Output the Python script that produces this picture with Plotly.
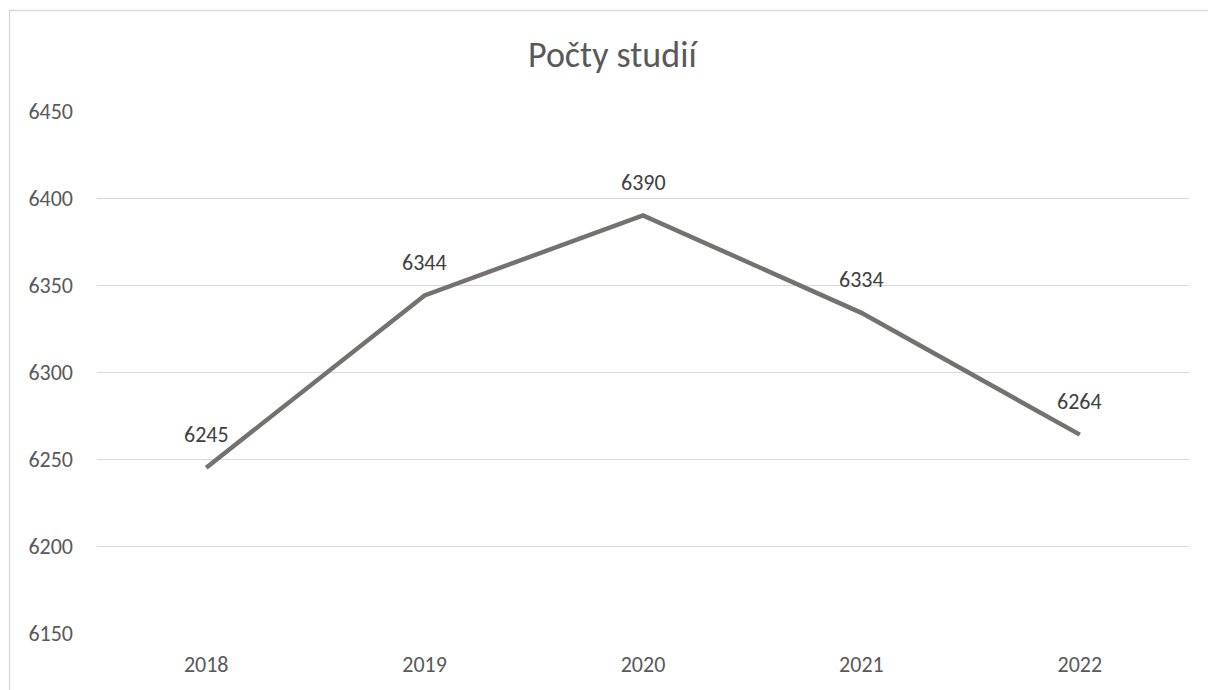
import plotly.graph_objects as go

years = ["2018", "2019", "2020", "2021", "2022"]
counts = [6245, 6344, 6390, 6334, 6264]
title_text = "Počty studií"

W, H = 1208, 690
L, R, T, B = 97, 19, 111, 57
PW, PH = W - L - R, H - T - B
FONT = "Carlito, Calibri, Lato, sans-serif"
TXT = "#595959"

def px_x(x):
    return (x - L) / PW

def px_y(y):
    return (H - B - y) / PH

fig = go.Figure()
fig.add_trace(go.Scatter(
    x=years, y=counts, mode="lines",
    line=dict(color="#767171", width=4.5),
    hoverinfo="skip", showlegend=False,
))
for i, yv in enumerate(counts):
    fig.add_annotation(x=i, y=yv, text=str(yv), showarrow=False,
                       yshift=33, font=dict(family=FONT, size=22, color="#404040"))

fig.add_annotation(xref="paper", yref="paper",
                   x=px_x(613), y=px_y(55),
                   text=title_text, showarrow=False, xanchor="center", yanchor="middle",
                   font=dict(family=FONT, size=36, color=TXT))

# chart border (left and top visible)
fig.add_shape(type="rect", xref="paper", yref="paper",
              x0=px_x(9.5), x1=1.2, y0=-0.2, y1=px_y(10.5),
              line=dict(color="#D9D9D9", width=1.3), fillcolor="rgba(0,0,0,0)")

fig.update_layout(
    width=W, height=H,
    margin=dict(l=L, r=R, t=T, b=B),
    paper_bgcolor="white", plot_bgcolor="white",
    font=dict(family=FONT, size=22, color=TXT),
)
fig.update_xaxes(type="category", range=[-0.5, 4.5], showgrid=False,
                 showline=False, zeroline=False, ticks="", ticklabelstandoff=16,
                 tickfont=dict(family=FONT, size=22, color=TXT))
fig.update_yaxes(range=[6150, 6450], dtick=50, showgrid=True, gridcolor="#D9D9D9",
                 gridwidth=1.3, zeroline=False, showline=False, ticks="",
                 ticklabelstandoff=23, tickfont=dict(family=FONT, size=22, color=TXT))

fig.write_html("out.html")
